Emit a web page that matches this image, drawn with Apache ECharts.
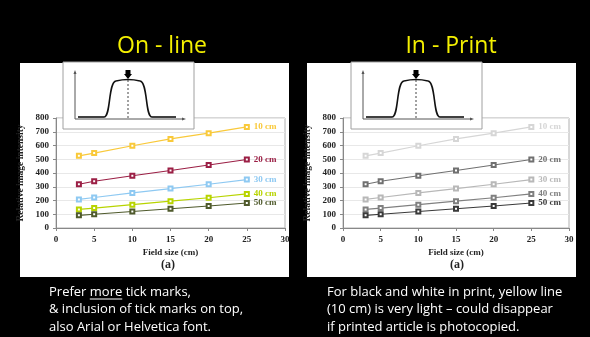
<!DOCTYPE html>
<html>
<head>
<meta charset="utf-8">
<script src="https://cdn.jsdelivr.net/npm/echarts@6/dist/echarts.min.js"></script>
<style>
  html, body { margin: 0; padding: 0; background: #000; }
  #main { width: 590px; height: 337px; }
</style>
</head>
<body>
<div id="main"></div>
<script>
// data
var fieldSize = [3, 5, 10, 15, 20, 25];
var depthNames = ['10 cm', '20 cm', '30 cm', '40 cm', '50 cm'];
var cm10 = [525, 545, 598, 648, 690, 735];
var cm20 = [318, 340, 380, 418, 458, 498];
var cm30 = [208, 222, 255, 287, 318, 352];
var cm40 = [135, 145, 170, 195, 220, 248];
var cm50 = [92, 100, 120, 140, 160, 182];

var onlineColors = ['#f9c93a', '#9b1f45', '#8ec9f2', '#b8d400', '#4f5a2c'];
var printColors = ['#d6d6d6', '#707070', '#b8b8b8', '#808080', '#3a3a3a'];

var allSeries = [cm10, cm20, cm30, cm40, cm50];

var SERIF = '"Liberation Serif", "DejaVu Serif", serif';
var SANS = '"Open Sans", "Noto Sans", sans-serif';

function makeSeries(gridIdx, colors) {
    return allSeries.map(function (vals, i) {
        return {
            type: 'line',
            name: depthNames[i],
            xAxisIndex: gridIdx,
            yAxisIndex: gridIdx,
            data: fieldSize.map(function (x, j) { return [x, vals[j]]; }),
            symbol: 'emptyRect',
            symbolSize: 4,
            color: colors[i],
            lineStyle: { width: 1.2, color: colors[i] },
            itemStyle: { borderWidth: 1.2 },
            endLabel: {
                show: true,
                formatter: '{a}',
                distance: 7,
                color: colors[i],
                fontFamily: SERIF,
                fontWeight: 'bold',
                fontSize: 9
            }
        };
    });
}

function makeX(gridIdx) {
    return {
        type: 'value', gridIndex: gridIdx, min: 0, max: 30, interval: 5,
        name: 'Field size (cm)', nameLocation: 'middle', nameGap: 20,
        nameTextStyle: { fontFamily: SERIF, fontWeight: 'bold', fontSize: 9, color: '#222' },
        axisLine: { show: true, lineStyle: { color: '#888' } },
        axisTick: { show: true, length: 3, lineStyle: { color: '#888' } },
        axisLabel: { fontFamily: SERIF, fontWeight: 'bold', fontSize: 9, color: '#222', margin: 7 },
        splitLine: { show: false }
    };
}

function makeY(gridIdx) {
    return {
        type: 'value', gridIndex: gridIdx, min: 0, max: 800, interval: 100,
        name: 'Relative image intensity', nameLocation: 'middle', nameGap: 30, nameRotate: 90,
        nameTextStyle: { fontFamily: SERIF, fontWeight: 'bold', fontSize: 9.5, color: '#222' },
        axisLine: { show: true, lineStyle: { color: '#888' } },
        axisTick: { show: true, length: 3, lineStyle: { color: '#888' } },
        axisLabel: { fontFamily: SERIF, fontWeight: 'bold', fontSize: 9, color: '#222', margin: 7 },
        splitLine: { show: true, lineStyle: { color: '#e8e8e8', width: 1 } }
    };
}

// inset sketch of a beam profile (picture, not data)
function inset(ox, oy) {
    var curve = { stroke: '#111', lineWidth: 1.6, fill: null };
    return [
        { type: 'rect', z: 100, shape: { x: ox, y: oy, width: 131, height: 67 },
          style: { fill: '#fff', stroke: '#a0a0a0', lineWidth: 1 } },
        { type: 'line', z: 101, shape: { x1: ox + 12, y1: oy + 57, x2: ox + 12, y2: oy + 10 },
          style: { stroke: '#555', lineWidth: 1 } },
        { type: 'polygon', z: 101, shape: { points: [[ox + 10.5, oy + 12], [ox + 13.5, oy + 12], [ox + 12, oy + 8]] },
          style: { fill: '#555' } },
        { type: 'line', z: 101, shape: { x1: ox + 12, y1: oy + 57, x2: ox + 120, y2: oy + 57 },
          style: { stroke: '#555', lineWidth: 1 } },
        { type: 'polygon', z: 101, shape: { points: [[ox + 119, oy + 55.5], [ox + 119, oy + 58.5], [ox + 123, oy + 57]] },
          style: { fill: '#555' } },
        { type: 'line', z: 101, shape: { x1: ox + 65, y1: oy + 14, x2: ox + 65, y2: oy + 57 },
          style: { stroke: '#444', lineWidth: 1, lineDash: [2, 2] } },
        { type: 'line', z: 102, shape: { x1: ox + 15, y1: oy + 55, x2: ox + 41, y2: oy + 55 }, style: curve },
        { type: 'bezierCurve', z: 102, shape: { x1: ox + 41, y1: oy + 55, cpx1: ox + 48, cpy1: oy + 55,
            cpx2: ox + 45, cpy2: oy + 20, x2: ox + 53, y2: oy + 19 }, style: curve },
        { type: 'bezierCurve', z: 102, shape: { x1: ox + 53, y1: oy + 19, cpx1: ox + 65, cpy1: oy + 16,
            x2: ox + 77, y2: oy + 19 }, style: curve },
        { type: 'bezierCurve', z: 102, shape: { x1: ox + 77, y1: oy + 19, cpx1: ox + 85, cpy1: oy + 20,
            cpx2: ox + 82, cpy2: oy + 55, x2: ox + 89, y2: oy + 55 }, style: curve },
        { type: 'line', z: 102, shape: { x1: ox + 89, y1: oy + 55, x2: ox + 113, y2: oy + 55 }, style: curve },
        { type: 'polygon', z: 103, shape: { points: [[ox + 62.5, oy + 8], [ox + 67.5, oy + 8], [ox + 67.5, oy + 12],
                                                   [ox + 69, oy + 12], [ox + 65, oy + 17], [ox + 61, oy + 12], [ox + 62.5, oy + 12]] },
          style: { fill: '#000' } }
    ];
}

var leftLines = ['Prefer more tick marks,', '& inclusion of tick marks on top,', 'also Arial or Helvetica font.'];
var rightLines = ['For black and white in print, yellow line', '(10 cm) is very light \u2013 could disappear', 'if printed article is photocopied.'];
var noteFont = '13px ' + SANS;

// measure where "more" falls for its underline
var ctx = document.createElement('canvas').getContext('2d');
ctx.font = noteFont;
var moreStart = 49 + ctx.measureText('Prefer ').width;
var moreEnd = moreStart + ctx.measureText('more').width;

var graphics = [
    { type: 'rect', z: -10, shape: { x: 20, y: 63, width: 269, height: 214 }, style: { fill: '#fff' } },
    { type: 'rect', z: -10, shape: { x: 307, y: 63, width: 269, height: 214 }, style: { fill: '#fff' } },
    { type: 'text', x: 162, y: 46, style: { text: 'On - line', fill: '#f4f000', font: '23px ' + SANS, align: 'center', verticalAlign: 'middle' } },
    { type: 'text', x: 451, y: 46, style: { text: 'In - Print', fill: '#f4f000', font: '23px ' + SANS, align: 'center', verticalAlign: 'middle' } },
    { type: 'text', x: 168, y: 265, style: { text: '(a)', fill: '#222', font: 'bold 12px ' + SERIF, align: 'center', verticalAlign: 'middle' } },
    { type: 'text', x: 457, y: 265, style: { text: '(a)', fill: '#222', font: 'bold 12px ' + SERIF, align: 'center', verticalAlign: 'middle' } },
    { type: 'line', shape: { x1: moreStart, y1: 299, x2: moreEnd, y2: 299 }, style: { stroke: '#fff', lineWidth: 1 } }
];
leftLines.forEach(function (t, i) {
    graphics.push({ type: 'text', x: 49, y: 292 + i * 17.5,
        style: { text: t, fill: '#fff', font: noteFont, verticalAlign: 'middle' } });
});
rightLines.forEach(function (t, i) {
    graphics.push({ type: 'text', x: 327, y: 292 + i * 17.5,
        style: { text: t, fill: '#fff', font: noteFont, verticalAlign: 'middle' } });
});
graphics = graphics.concat(inset(63, 62), inset(351, 62));

var chart = echarts.init(document.getElementById('main'));
chart.setOption({
    backgroundColor: '#000',
    animation: false,
    grid: [
        { left: 56, top: 118, width: 229, height: 110, show: true, borderColor: '#b0b0b0', borderWidth: 1, backgroundColor: 'transparent' },
        { left: 343, top: 118, width: 226, height: 110, show: true, borderColor: '#b0b0b0', borderWidth: 1, backgroundColor: 'transparent' }
    ],
    xAxis: [makeX(0), makeX(1)],
    yAxis: [makeY(0), makeY(1)],
    series: makeSeries(0, onlineColors).concat(makeSeries(1, printColors)),
    graphic: graphics
});
</script>
</body>
</html>
